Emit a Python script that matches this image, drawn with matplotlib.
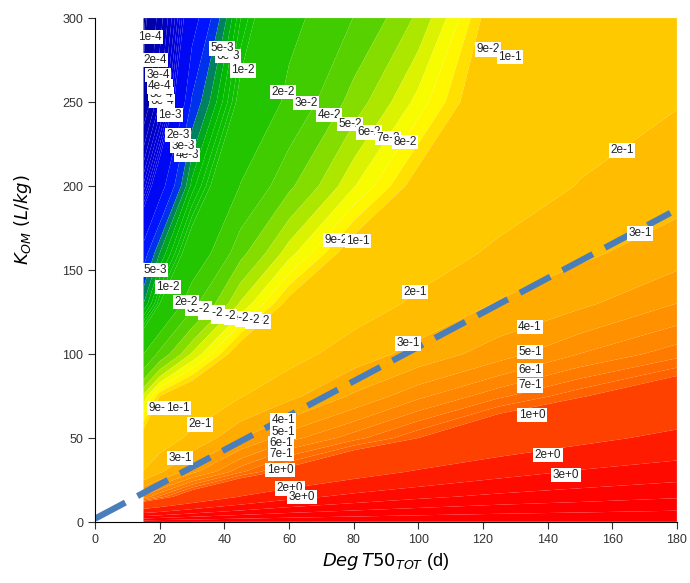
import numpy as np
import matplotlib
matplotlib.use('Agg')
import matplotlib.pyplot as plt
from matplotlib.colors import LinearSegmentedColormap, Normalize

plt.rcParams['font.family'] = ['Liberation Sans', 'DejaVu Sans']

# Grid (log10 of the plotted quantity)
degt50 = [15, 20, 30, 45, 60, 80, 100, 125, 150, 180]
k_om = [0, 15, 30, 50, 75, 100, 130, 160, 200, 250, 300]

# rows = k_om, columns = degt50
log_val = [
    [0.85, 0.85, 0.85, 0.85, 0.85, 0.85, 0.85, 0.85, 0.85, 0.85],
    [-0.20, -0.08, 0.12, 0.31, 0.43, 0.52, 0.58, 0.63, 0.66, 0.69],
    [-0.69, -0.55, -0.33, -0.11, 0.04, 0.21, 0.32, 0.42, 0.49, 0.54],
    [-0.95, -0.82, -0.65, -0.40, -0.25, -0.12, 0.00, 0.15, 0.25, 0.35],
    [-1.20, -1.00, -0.88, -0.71, -0.56, -0.38, -0.24, -0.11, -0.01, 0.11],
    [-1.70, -1.48, -1.21, -0.93, -0.78, -0.60, -0.47, -0.34, -0.22, -0.12],
    [-2.30, -2.00, -1.57, -1.21, -0.97, -0.81, -0.66, -0.51, -0.42, -0.30],
    [-2.60, -2.30, -1.87, -1.43, -1.18, -0.94, -0.81, -0.66, -0.55, -0.45],
    [-3.20, -2.80, -2.19, -1.69, -1.42, -1.16, -0.96, -0.82, -0.69, -0.59],
    [-3.90, -3.40, -2.50, -1.95, -1.65, -1.35, -1.13, -0.88, -0.80, -0.71],
    [-4.10, -3.60, -2.80, -2.10, -1.76, -1.52, -1.28, -0.92, -0.83, -0.77],
]

# contour labels (text, DegT50, K_OM)
labels = [
    ('1e-4', 17.0, 288.7), ('2e-4', 18.6, 275.0), ('3e-4', 19.5, 266.1),
    ('6e-4', 20.7, 250.6), ('5e-4', 20.4, 254.8), ('4e-4', 20.1, 259.5),
    ('1e-3', 23.2, 242.3), ('4e-3', 28.5, 218.5), ('3e-3', 27.2, 223.8),
    ('2e-3', 25.7, 230.4),
    ('6e-3', 41.1, 277.4), ('5e-3', 39.3, 282.1), ('1e-2', 45.8, 269.0),
    ('2e-2', 58.2, 256.0), ('3e-2', 65.3, 249.4), ('4e-2', 72.4, 242.3),
    ('5e-2', 78.9, 236.9), ('6e-2', 84.8, 232.1), ('7e-2', 90.6, 228.6),
    ('8e-2', 95.9, 226.2),
    ('9e-2', 121.6, 281.5), ('1e-1', 128.4, 276.8), ('2e-1', 163.0, 221.4),
    ('9e-2', 74.5, 167.9), ('1e-1', 81.3, 167.3), ('2e-1', 99.0, 136.9),
    ('3e-1', 168.6, 172.0), ('3e-1', 96.8, 106.5),
    ('5e-3', 18.6, 150.0), ('1e-2', 22.6, 139.9),
    ('8e-2', 50.5, 119.5), ('7e-2', 47.5, 120.5), ('6e-2', 44.0, 121.5),
    ('5e-2', 40.0, 122.5), ('4e-2', 36.0, 124.5), ('3e-2', 32.0, 127.0),
    ('2e-2', 28.1, 131.0),
    ('9e-2', 20.1, 67.9), ('1e-1', 25.7, 67.9), ('2e-1', 32.5, 58.3),
    ('3e-1', 26.3, 38.1),
    ('4e-1', 58.2, 60.7), ('5e-1', 58.2, 53.6), ('6e-1', 57.5, 47.0),
    ('7e-1', 57.5, 40.5), ('1e+0', 57.2, 31.0), ('2e+0', 60.3, 20.2),
    ('3e+0', 64.0, 14.9),
    ('4e-1', 134.5, 116.1), ('5e-1', 134.5, 101.2), ('6e-1', 134.5, 90.5),
    ('7e-1', 134.5, 81.5), ('1e+0', 135.2, 63.7), ('2e+0', 140.1, 39.9),
    ('3e+0', 145.7, 28.0),
]

# reference line
line_x = [0, 178]
line_y = [2, 184]

# colour scale over log10 value
anchors = [
    (-4.3, '#00008c'), (-3.5, '#0000be'), (-3.0, '#0000eb'), (-2.6, '#0014ff'),
    (-2.42, '#003ce6'), (-2.32, '#00963c'), (-2.2, '#00b900'), (-2.0, '#14c300'),
    (-1.7, '#32c800'), (-1.45, '#5ad200'), (-1.3, '#96e100'), (-1.2, '#d2f000'),
    (-1.1, '#ffff00'), (-1.02, '#ffe100'), (-0.95, '#ffcd00'), (-0.7, '#ffc300'),
    (-0.5, '#ffb400'), (-0.4, '#ffa500'), (-0.3, '#ff9600'), (-0.15, '#ff8200'),
    (0.0, '#ff5f00'), (0.3, '#ff2800'), (0.48, '#ff0f00'), (0.7, '#ff0000'),
    (0.9, '#ff0000'),
]
vmin, vmax = anchors[0][0], anchors[-1][0]
cmap = LinearSegmentedColormap.from_list(
    'conc', [((v - vmin) / (vmax - vmin), c) for v, c in anchors])

levels = sorted(np.log10([m * 10.0 ** d for d in range(-5, 1) for m in range(1, 10)]))
levels.append(1.0)

fig = plt.figure(figsize=(6.9, 5.83), dpi=100)
ax = fig.add_axes([0.1377, 0.1046, 0.981 - 0.1377, 0.969 - 0.1046])

X, Y = np.meshgrid(degt50, k_om)
ax.contourf(X, Y, np.array(log_val), levels=levels, cmap=cmap,
            norm=Normalize(vmin=vmin, vmax=vmax), antialiased=True)

for txt, x, y in labels:
    ax.text(x, y, txt, fontsize=8.5, color='#222222', ha='center', va='center',
            bbox=dict(boxstyle='square,pad=0.12', fc='white', ec='none'))

ax.plot(line_x, line_y, color='#4a7ebb', lw=4.5, dashes=(5.5, 2.2),
        solid_capstyle='butt', dash_capstyle='butt')

ax.set_xlim(0, 180)
ax.set_ylim(0, 300)
ax.set_xticks(range(0, 181, 20))
ax.set_yticks(range(0, 301, 50))
for s in ['top', 'right']:
    ax.spines[s].set_visible(False)
ax.tick_params(direction='out', length=5, labelsize=9, colors='#333333')
ax.set_xlabel(r'$\it{Deg\,T50}_{\it{TOT}}$ (d)', fontsize=13)
ax.set_ylabel(r'$\it{K}_{\it{OM}}$ $\it{(L/kg)}$', fontsize=13)
ax.yaxis.set_label_coords(-0.105, 0.6)

fig.savefig('out.png', dpi=100)
